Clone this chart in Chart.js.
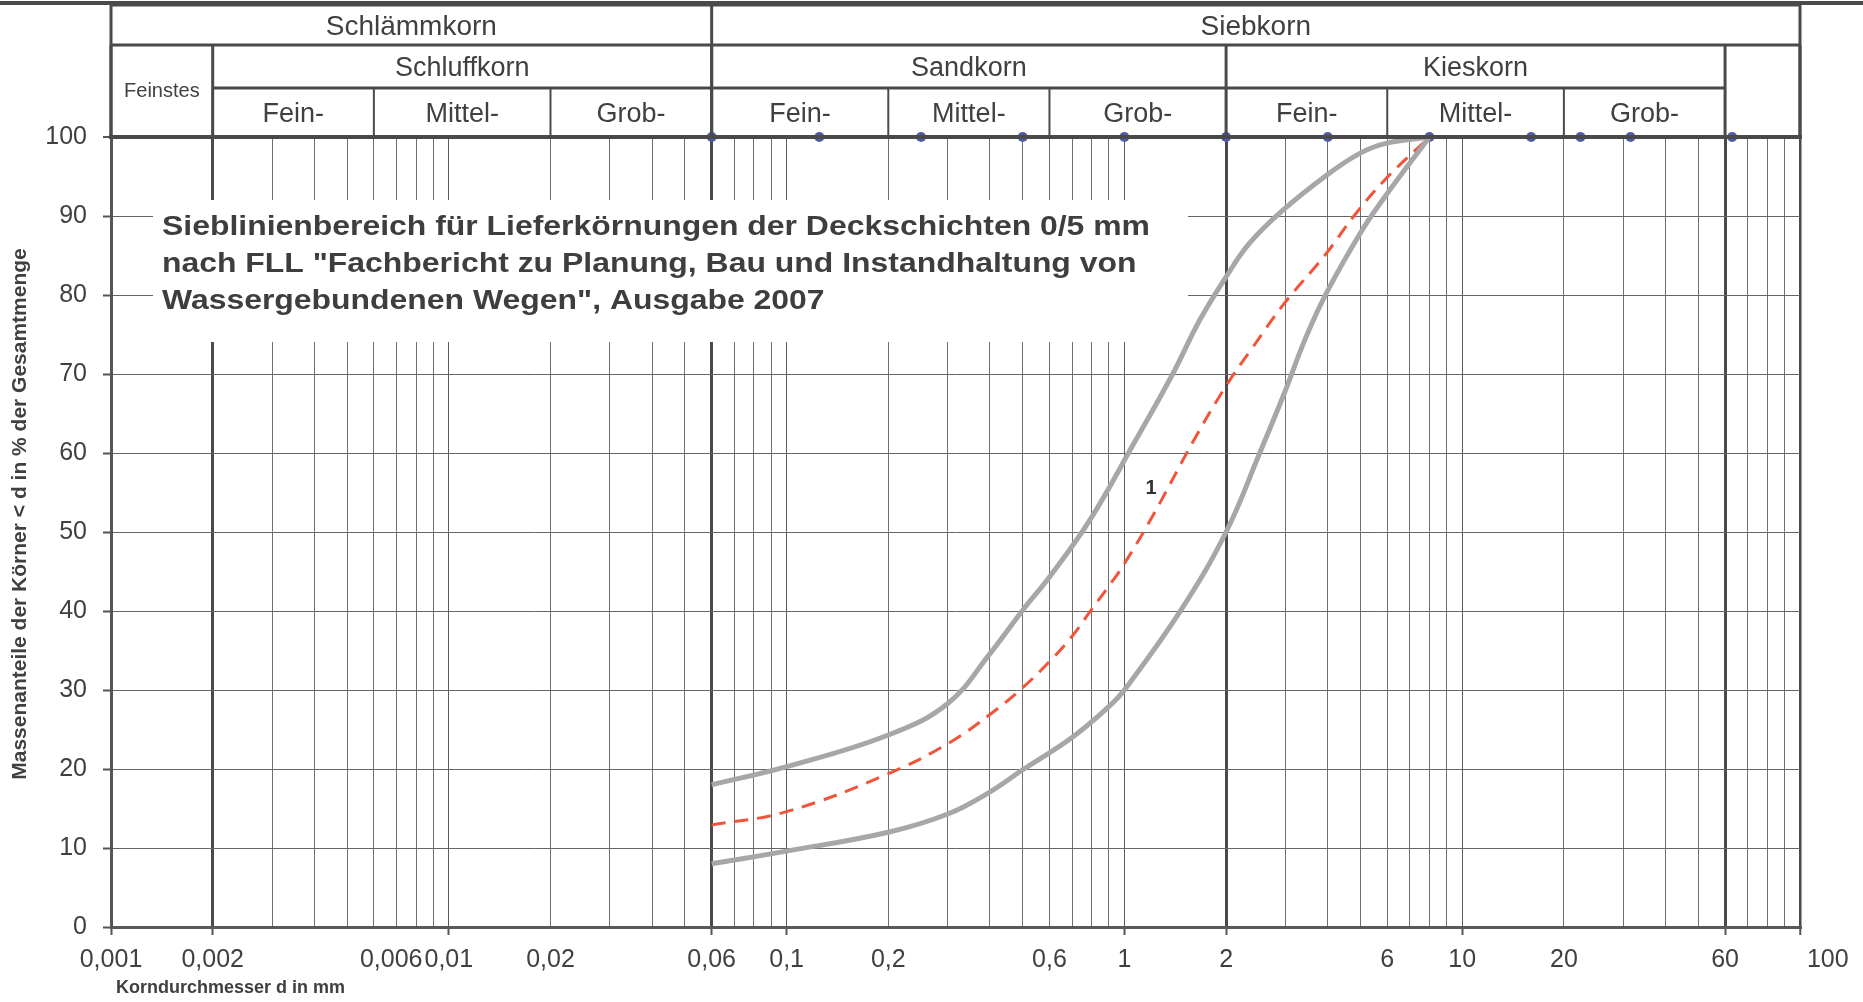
<!DOCTYPE html>
<html>
<head>
<meta charset="utf-8">
<script src="https://cdn.jsdelivr.net/npm/chart.js@4.4.0/dist/chart.umd.min.js"></script>
<style>
  html, body { margin: 0; padding: 0; background: #fff; }
</style>
</head>
<body>
<canvas id="sieve_chart" width="1863" height="1002"></canvas>
<script>
// Sieblinien, d in mm, passing in %
var upperD = [0.06, 0.1, 0.2, 0.3, 0.4, 0.5, 0.6, 0.79, 1.06, 1.39, 1.67, 2, 2.34, 2.94, 3.95, 4.96, 5.94, 8];
var upperY = [18, 20.3, 24.3, 28.3, 34.6, 40.1, 44.3, 51.5, 61, 70, 76.8, 82.3, 86.5, 90.7, 95.1, 97.9, 99.2, 100];

var lowerD = [0.06, 0.1, 0.2, 0.3, 0.4, 0.5, 0.7, 0.894, 1, 1.47, 2, 2.51, 2.97, 3.45, 3.99, 5.07, 5.94, 6.97, 8];
var lowerY = [8, 9.6, 12.0, 14.3, 17.1, 19.9, 24.0, 27.8, 30, 40.1, 50, 59.9, 67.5, 74.7, 80.5, 88.3, 92.6, 96.6, 100];

var midD = [0.06, 0.1, 0.2, 0.3, 0.4, 0.5, 0.6, 0.7, 0.79, 0.894, 1, 1.23, 1.59, 2, 2.4, 2.97, 3.95, 4.8, 5.94, 8];
var midY = [12.9, 14.6, 19.4, 23.2, 26.9, 30.3, 33.6, 36.8, 39.9, 43.0, 46.0, 52.5, 61.3, 68.5, 73.4, 78.9, 85.2, 90.1, 94.7, 100];

// sieve sizes marked on the 100 % line
var sieveD = [0.06, 0.125, 0.25, 0.5, 1, 2, 4, 8, 16, 22.4, 31.5, 63];
var sieveY = [100, 100, 100, 100, 100, 100, 100, 100, 100, 100, 100, 100];

// axis labels
var xLabels = [0.001, 0.002, 0.006, 0.01, 0.02, 0.06, 0.1, 0.2, 0.6, 1, 2, 6, 10, 20, 60, 100];
var bounds = [0.002, 0.06, 2, 60];

// header table
var topRow = ['Schlämmkorn', 'Siebkorn'];
var topEdges = [0.001, 0.06, 100];
var midRow = ['Feinstes', 'Schluffkorn', 'Sandkorn', 'Kieskorn', ''];
var midEdges = [0.001, 0.002, 0.06, 2, 60, 100];
var subRow = ['Fein-', 'Mittel-', 'Grob-', 'Fein-', 'Mittel-', 'Grob-', 'Fein-', 'Mittel-', 'Grob-'];
var subEdges = [0.002, 0.006, 0.02, 0.06, 0.2, 0.6, 2, 6, 20, 60];

var titleLines = [
    'Sieblinienbereich für Lieferkörnungen der Deckschichten 0/5 mm',
    'nach FLL "Fachbericht zu Planung, Bau und Instandhaltung von',
    'Wassergebundenen Wegen", Ausgabe 2007'
];
var yTitle = 'Massenanteile der Körner < d in % der Gesamtmenge';
var xTitle = ' Korndurchmesser d in mm';
var tagText = '1', tagD = 1.2, tagY = 55.5;

/////////////////////////////////////////////////////////

var FONT = '"Liberation Sans", Arial, sans-serif';
var DARK = '#4a4a4a';

var gridValues = [];
[-3, -2, -1, 0, 1].forEach(function(k) {
    for (var m = 1; m < 10; m++) gridValues.push(Number((m * Math.pow(10, k)).toPrecision(3)));
});
gridValues.push(100);

function isDecade(v) {
    return [0.001, 0.01, 0.1, 1, 10, 100].indexOf(v) >= 0;
}

function pts(xs, ys) {
    return xs.map(function(d, i) { return {x: d, y: ys[i]}; });
}

function line(ctx, x1, y1, x2, y2, w) {
    ctx.lineWidth = w;
    ctx.beginPath();
    ctx.moveTo(x1, y1);
    ctx.lineTo(x2, y2);
    ctx.stroke();
}

var headerPlugin = {
    id: 'header',
    beforeDatasetsDraw: function(chart) {
        // white box with the title inside the plot
        var ctx = chart.ctx, a = chart.chartArea;
        ctx.save();
        ctx.fillStyle = '#fff';
        ctx.fillRect(a.left + 42, a.top + 63, 1035, 142);
        ctx.fillStyle = '#3e3e3e';
        ctx.font = 'bold 27px ' + FONT;
        ctx.textBaseline = 'alphabetic';
        var sx = 988 / ctx.measureText(titleLines[0]).width;
        titleLines.forEach(function(t, i) {
            ctx.save();
            ctx.translate(a.left + 51, a.top + 98 + i * 37);
            ctx.scale(sx, 1);
            ctx.fillText(t, 0, 0);
            ctx.restore();
        });
        ctx.restore();
    },
    afterDatasetsDraw: function(chart) {
        var ctx = chart.ctx, a = chart.chartArea;
        ctx.save();
        ctx.strokeStyle = DARK;
        line(ctx, a.left - 2, a.top, a.right + 2, a.top, 4);
        ctx.fillStyle = '#333';
        ctx.font = 'bold 20px ' + FONT;
        ctx.textAlign = 'center';
        ctx.textBaseline = 'middle';
        ctx.fillText(tagText, chart.scales.x.getPixelForValue(tagD), chart.scales.y.getPixelForValue(tagY));
        ctx.restore();
    },
    afterDraw: function(chart) {
        var ctx = chart.ctx, a = chart.chartArea;
        var px = function(v) { return chart.scales.x.getPixelForValue(v); };
        var yTop = 5, y1 = 45, y2 = 88, yB = a.top;
        ctx.save();
        ctx.strokeStyle = DARK;
        // cut-off line along the top edge
        line(ctx, 0, 3, chart.width, 3, 4);
        line(ctx, px(0.001), yTop, px(100), yTop, 3);
        line(ctx, px(0.001), y1, px(100), y1, 3);
        line(ctx, px(subEdges[0]), y2, px(subEdges[subEdges.length - 1]), y2, 3);
        topEdges.forEach(function(v) { line(ctx, px(v), yTop, px(v), yB, 3); });
        midEdges.forEach(function(v) { line(ctx, px(v), y1, px(v), yB, 3); });
        subEdges.forEach(function(v) { line(ctx, px(v), y2, px(v), yB, 2); });

        ctx.fillStyle = '#404040';
        ctx.textAlign = 'center';
        ctx.textBaseline = 'middle';
        ctx.font = '28px ' + FONT;
        topRow.forEach(function(t, i) {
            ctx.fillText(t, (px(topEdges[i]) + px(topEdges[i + 1])) / 2, (yTop + y1) / 2 + 2);
        });
        midRow.forEach(function(t, i) {
            var lo = midEdges[i], hi = midEdges[i + 1];
            var spans = hi <= subEdges[0] || lo >= subEdges[subEdges.length - 1];
            ctx.font = (spans ? '20px ' : '27px ') + FONT;
            ctx.fillText(t, (px(lo) + px(hi)) / 2, spans ? (y1 + yB) / 2 : (y1 + y2) / 2 + 2);
        });
        ctx.font = '27px ' + FONT;
        subRow.forEach(function(t, i) {
            ctx.fillText(t, (px(subEdges[i]) + px(subEdges[i + 1])) / 2, (y2 + yB) / 2 + 2);
        });

        // y axis title
        ctx.save();
        ctx.translate(20, 514);
        ctx.rotate(-Math.PI / 2);
        ctx.font = 'bold 21px ' + FONT;
        ctx.fillText(yTitle, 0, 0);
        ctx.restore();
        ctx.restore();
    }
};

var sieveCanvas = document.getElementById('sieve_chart');

var sieveData = {
    datasets: [
        {
            label: 'oben',
            data: pts(upperD, upperY),
            borderColor: '#a7a7a9',
            borderWidth: 5,
            tension: 0.4,
            pointRadius: 0,
            fill: false
        },
        {
            label: 'unten',
            data: pts(lowerD, lowerY),
            borderColor: '#a7a7a9',
            borderWidth: 5,
            tension: 0.4,
            pointRadius: 0,
            fill: false
        },
        {
            label: '1',
            data: pts(midD, midY),
            borderColor: '#f0553a',
            borderWidth: 3,
            borderDash: [14, 9],
            tension: 0.4,
            pointRadius: 0,
            fill: false
        },
        {
            label: 'Siebe',
            data: pts(sieveD, sieveY),
            borderColor: '#4f5aa8',
            backgroundColor: '#4f5aa8',
            borderWidth: 2,
            pointRadius: 5,
            pointBorderWidth: 0,
            clip: false,
            fill: false
        }
    ]
};

var chartOptions = {
    responsive: false,
    animation: false,
    layout: {
        padding: {top: 137, right: 63, left: 0, bottom: 0}
    },
    plugins: {
        legend: {display: false},
        tooltip: {enabled: false}
    },
    scales: {
        x: {
            type: 'logarithmic',
            min: 0.001,
            max: 100,
            afterFit: function(scale) { scale.height = 75; },
            afterBuildTicks: function(axis) {
                axis.ticks = gridValues.map(function(v) { return {value: v}; });
            },
            border: {color: '#595959', width: 3},
            grid: {
                color: function(c) {
                    var v = c.tick && c.tick.value;
                    if (bounds.indexOf(v) >= 0 || v === 0.001 || v === 100) return DARK;
                    return isDecade(v) ? '#5c5c5c' : '#707070';
                },
                lineWidth: function(c) {
                    var v = c.tick && c.tick.value;
                    if (bounds.indexOf(v) >= 0 || v === 0.001) return 3;
                    if (v === 100) return 2.5;
                    return 1;
                },
                tickColor: function(c) {
                    var v = c.tick && c.tick.value;
                    return (bounds.indexOf(v) >= 0 || isDecade(v)) ? '#555' : 'rgba(0,0,0,0)';
                },
                tickWidth: 2,
                tickLength: 8
            },
            ticks: {
                autoSkip: false,
                maxRotation: 0,
                padding: 10,
                color: '#404040',
                font: {size: 25, family: FONT},
                callback: function(value) {
                    if (xLabels.indexOf(value) < 0) return '';
                    var s = String(value).replace('.', ',');
                    if (value === 100) return '        ' + s;
                    if (value === 0.006) return '     ' + s;
                    return s;
                }
            },
            title: {
                display: true,
                text: xTitle,
                align: 'start',
                color: '#404040',
                font: {size: 18, weight: 'bold', family: FONT},
                padding: {top: 0, bottom: 3}
            }
        },
        y: {
            min: 0,
            max: 100,
            afterFit: function(scale) { scale.width = 111; },
            border: {color: '#555', width: 3},
            grid: {
                color: function(c) { return c.tick && c.tick.value === 100 ? DARK : '#666'; },
                lineWidth: function(c) { return c.tick && c.tick.value === 100 ? 4 : 1; },
                tickColor: '#555',
                tickWidth: 2,
                tickLength: 8
            },
            ticks: {
                stepSize: 10,
                padding: 16,
                color: '#404040',
                font: {size: 25, family: FONT}
            }
        }
    }
};

var sieveChart = new Chart(sieveCanvas, {
    type: 'line',
    data: sieveData,
    options: chartOptions,
    plugins: [headerPlugin]
});
</script>
</body>
</html>
